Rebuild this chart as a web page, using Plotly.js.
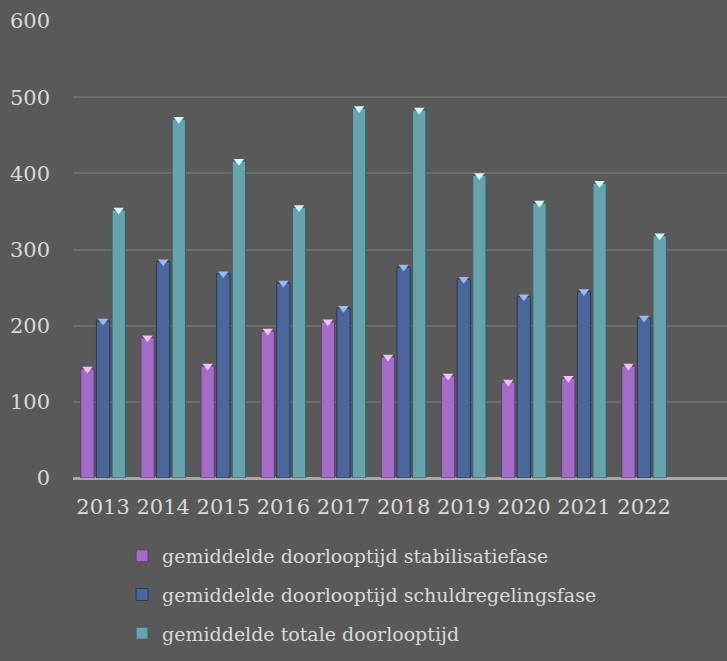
<!DOCTYPE html>
<html>
<head>
<meta charset="utf-8">
<script src="https://cdn.plot.ly/plotly-3.0.1.min.js"></script>
<style>
  html, body { margin: 0; padding: 0; background: #595959; }
  #chart { width: 727px; height: 661px; }
</style>
</head>
<body>
<div id="chart"></div>
<script>
const years = ["2013", "2014", "2015", "2016", "2017", "2018", "2019", "2020", "2021", "2022"];
const seriesNames = [
  "gemiddelde doorlooptijd stabilisatiefase",
  "gemiddelde doorlooptijd schuldregelingsfase",
  "gemiddelde totale doorlooptijd"
];
const stabilisatie = [143, 184, 147, 193, 205, 159, 134, 126, 131, 147];
const schuldregeling = [206, 284, 268, 256, 223, 277, 261, 238, 245, 210];
const totaal = [352, 471, 416, 355, 485, 483, 397, 361, 387, 318];
const yTicks = [0, 100, 200, 300, 400, 500, 600];

const barColors = ["#a46cc6", "#4a669b", "#67a3ad"];
const edgeColors = ["#5e3a73", "#26395a", "#386168"];
const capColors = ["#f0c2f7", "#9ab8ee", "#d6f6fa"];
const values = [stabilisatie, schuldregeling, totaal];

const traces = [];
values.forEach((vals, i) => {
  traces.push({
    type: "bar",
    x: years,
    y: vals,
    name: seriesNames[i],
    offsetgroup: "g" + i,
    alignmentgroup: "a",
    legendgroup: "lg" + i,
    marker: { color: barColors[i], line: { color: edgeColors[i], width: 1 } },
    hoverinfo: "x+y"
  });
});
values.forEach((vals, i) => {
  traces.push({
    type: "scatter",
    mode: "markers",
    x: years,
    y: vals,
    offsetgroup: "g" + i,
    alignmentgroup: "a",
    showlegend: false,
    hoverinfo: "skip",
    marker: { symbol: "triangle-down", size: 9, color: capColors[i], line: { width: 0 } },
    cliponaxis: false
  });
});

const layout = {
  width: 727,
  height: 661,
  paper_bgcolor: "#595959",
  plot_bgcolor: "#595959",
  margin: { l: 73, r: 0, t: 21, b: 183 },
  barmode: "group",
  scattermode: "group",
  bargap: 0.22,
  bargroupgap: 0.15,
  scattergap: 0.22,
  font: { family: "DejaVu Serif", color: "#d9d9d9", size: 21 },
  showlegend: true,
  legend: {
    orientation: "v",
    x: 0.075,
    xanchor: "left",
    y: -0.129,
    yanchor: "top",
    bgcolor: "rgba(0,0,0,0)",
    font: { family: "DejaVu Serif", size: 19, color: "#d9d9d9" },
    tracegroupgap: 11,
    itemwidth: 30
  },
  xaxis: {
    type: "category",
    range: [-0.5, 10.38],
    showgrid: false,
    zeroline: false,
    showline: false,
    ticks: "",
    tickfont: { family: "DejaVu Serif", size: 21, color: "#d9d9d9" },
    ticklabelstandoff: 14,
    fixedrange: true
  },
  yaxis: {
    range: [0, 600],
    tickvals: yTicks,
    ticktext: yTicks.map(String),
    showgrid: true,
    gridcolor: "#6d6d6d",
    gridwidth: 2,
    zeroline: true,
    zerolinecolor: "#a9a9a9",
    zerolinewidth: 3,
    showline: false,
    ticks: "",
    tickfont: { family: "DejaVu Serif", size: 21, color: "#d9d9d9" },
    ticklabelstandoff: 22,
    fixedrange: true
  }
};

Plotly.newPlot("chart", traces, layout, { displayModeBar: false, staticPlot: true });
</script>
</body>
</html>
